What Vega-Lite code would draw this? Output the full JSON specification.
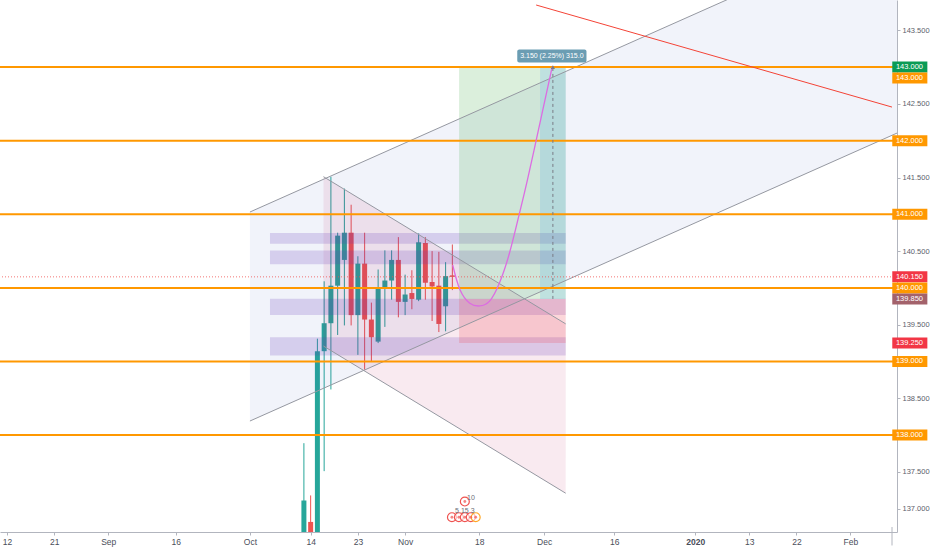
{
  "$schema": "https://vega.github.io/schema/vega-lite/v6.json",
  "width": 897,
  "height": 532,
  "autosize": {"type": "none"},
  "padding": {"left": 0, "top": 0, "right": 35, "bottom": 18},
  "background": "white",
  "config": {"view": {"stroke": null}, "font": "Liberation Sans, sans-serif"},
  "resolve": {"scale": {"color": "independent"}},
  "datasets": {
    "candles": [
      {"i": 8, "o": 133.0, "h": 137.89, "l": 132.8, "c": 137.11},
      {"i": 9, "o": 136.82, "h": 137.18, "l": 136.45, "c": 136.6},
      {"i": 10, "o": 136.6, "h": 139.31, "l": 136.4, "c": 139.14},
      {"i": 11, "o": 139.14, "h": 140.09, "l": 137.51, "c": 139.52},
      {"i": 12, "o": 139.52, "h": 141.51, "l": 138.62, "c": 140.03},
      {"i": 13, "o": 140.03, "h": 140.75, "l": 139.36, "c": 140.71},
      {"i": 14, "o": 140.38, "h": 141.35, "l": 139.49, "c": 140.75},
      {"i": 15, "o": 140.75, "h": 141.13, "l": 139.49, "c": 139.63},
      {"i": 16, "o": 139.63, "h": 140.43, "l": 139.09, "c": 140.33},
      {"i": 17, "o": 140.33, "h": 140.75, "l": 138.89, "c": 139.57},
      {"i": 18, "o": 139.57, "h": 139.8, "l": 139.0, "c": 139.33},
      {"i": 19, "o": 139.27, "h": 140.25, "l": 139.25, "c": 140.0},
      {"i": 20, "o": 139.99, "h": 140.51, "l": 139.47, "c": 140.1},
      {"i": 21, "o": 140.1, "h": 140.51, "l": 139.84, "c": 140.38},
      {"i": 22, "o": 140.38, "h": 140.69, "l": 139.6, "c": 139.81},
      {"i": 23, "o": 139.81, "h": 140.18, "l": 139.63, "c": 139.91},
      {"i": 24, "o": 139.93, "h": 140.24, "l": 139.71, "c": 139.85},
      {"i": 25, "o": 139.84, "h": 140.74, "l": 139.82, "c": 140.62},
      {"i": 26, "o": 140.61, "h": 140.69, "l": 139.84, "c": 140.07},
      {"i": 27, "o": 140.08, "h": 140.5, "l": 139.55, "c": 140.02},
      {"i": 28, "o": 140.03, "h": 140.49, "l": 139.4, "c": 139.51},
      {"i": 29, "o": 139.75, "h": 140.35, "l": 139.41, "c": 140.16},
      {"i": 30, "o": 140.17, "h": 140.59, "l": 139.97, "c": 140.15}
    ],
    "blueChannel": [
      {"i": 0, "up": 141.031, "lo": 138.191},
      {"i": 100, "up": 145.111, "lo": 142.271}
    ],
    "pinkChannel": [
      {"i": 10.9, "up": 141.511, "lo": 139.21},
      {"i": 46.8, "up": 139.511, "lo": 137.21}
    ],
    "zones": [
      {"top": 140.747, "bot": 140.6},
      {"top": 140.507, "bot": 140.32},
      {"top": 139.853, "bot": 139.63},
      {"top": 139.33, "bot": 139.08}
    ],
    "position": [
      {"top": 143.0, "bot": 139.85, "zone": "profit"},
      {"top": 139.85, "bot": 139.25, "zone": "stop"}
    ],
    "measure": [
      {"from": 139.85, "to": 143.0, "label": "3.150 (2.25%) 315.0", "mid": 143.15}
    ],
    "channelLines": [
      {"i": 0, "p": 141.031, "i2": 100, "p2": 145.111},
      {"i": 0, "p": 138.191, "i2": 100, "p2": 142.271},
      {"i": 10.9, "p": 141.511, "i2": 46.8, "p2": 139.511},
      {"i": 10.9, "p": 139.21, "i2": 46.8, "p2": 137.21}
    ],
    "trendLine": [
      {"i": 42.42, "p": 143.844, "i2": 95.16, "p2": 142.457}
    ],
    "levels": [{"p": 138.0}, {"p": 139.0}, {"p": 140.0}, {"p": 141.0}, {"p": 142.0}, {"p": 143.0}],
    "lastPrice": [{"p": 140.15}],
    "forecast": [
      {"i": 30.05, "p": 140.311},
      {"i": 31.12, "p": 139.977},
      {"i": 32.58, "p": 139.791},
      {"i": 34.05, "p": 139.755},
      {"i": 35.52, "p": 139.821},
      {"i": 36.98, "p": 140.067},
      {"i": 38.45, "p": 140.467},
      {"i": 39.91, "p": 141.0},
      {"i": 41.13, "p": 141.467},
      {"i": 42.36, "p": 141.977},
      {"i": 43.57, "p": 142.488},
      {"i": 44.79, "p": 143.0}
    ],
    "events": [
      {"i": 31.85, "p": 137.097, "src": "news"},
      {"i": 29.94, "p": 136.884, "src": "news"},
      {"i": 30.97, "p": 136.884, "src": "news"},
      {"i": 31.85, "p": 136.884, "src": "news"},
      {"i": 32.73, "p": 136.884, "src": "news"},
      {"i": 33.46, "p": 136.884, "src": "earn"}
    ],
    "eventText": [
      {"i": 32.75, "p": 137.15, "t": "10"},
      {"i": 31.85, "p": 136.965, "t": "5 15 3"}
    ],
    "rlabels": [
      {"p": 143.0, "kind": "target"},
      {"p": 142.0, "kind": "level"},
      {"p": 141.0, "kind": "level"},
      {"p": 140.15, "kind": "last"},
      {"p": 140.0, "kind": "level"},
      {"p": 139.85, "kind": "entry"},
      {"p": 139.25, "kind": "stop"},
      {"p": 139.0, "kind": "level"},
      {"p": 138.0, "kind": "level"}
    ],
    "shiftedLabel": [{"p": 143.0, "kind": "level"}]
  },
  "layer": [
    {
      "data": {"name": "candles"},
      "mark": {"type": "rule", "strokeWidth": 1, "clip": true},
      "encoding": {
        "x": {
          "field": "i", "type": "quantitative",
          "scale": {"domain": [-36.3, 95.16], "nice": false, "zero": false},
          "axis": {
            "orient": "bottom", "title": null, "grid": false,
            "values": [-36, -29, -21, -11, 0, 9, 16, 23, 34, 43.6, 54, 66, 74, 81, 89],
            "labelExpr": "['12','21','Sep','16','Oct','14','23','Nov','18','Dec','16','2020','13','22','Feb'][indexof([-36,-29,-21,-11,0,9,16,23,34,43.6,54,66,74,81,89], datum.value)]",
            "labelFontWeight": {"condition": {"test": "datum.value == 66", "value": "bold"}, "value": "normal"},
            "domainColor": "#b2b5be", "tickColor": "#b2b5be", "tickSize": 3,
            "labelFontSize": 8.5, "labelColor": "#4a4e59", "labelPadding": 2,
            "labelFlush": false, "labelOverlap": false
          }
        },
        "y": {
          "field": "l", "type": "quantitative",
          "scale": {"domain": [136.751, 143.844], "nice": false, "zero": false},
          "axis": {
            "orient": "right", "title": null, "grid": false,
            "values": [137, 137.5, 138.5, 139.5, 140.5, 141.5, 142.5, 143.5],
            "format": ".3f",
            "domainColor": "#b2b5be", "tickColor": "#b2b5be", "tickSize": 3,
            "labelFontSize": 7.5, "labelColor": "#5d606b", "labelPadding": 2
          }
        },
        "y2": {"field": "h"},
        "color": {"condition": {"test": "datum.c >= datum.o", "value": "#26a69a"}, "value": "#ef5350"}
      }
    },
    {
      "data": {"name": "candles"},
      "mark": {"type": "bar", "size": 5, "clip": true},
      "encoding": {
        "x": {"field": "i", "type": "quantitative"},
        "y": {"field": "o", "type": "quantitative"},
        "y2": {"field": "c"},
        "color": {"condition": {"test": "datum.c >= datum.o", "value": "#26a69a"}, "value": "#ef5350"}
      }
    },
    {
      "data": {"name": "blueChannel"},
      "mark": {"type": "area", "color": "#3f51b5", "opacity": 0.07, "clip": true},
      "encoding": {
        "x": {"field": "i", "type": "quantitative"},
        "y": {"field": "up", "type": "quantitative"},
        "y2": {"field": "lo"}
      }
    },
    {
      "data": {"name": "pinkChannel"},
      "mark": {"type": "area", "color": "#c2185b", "opacity": 0.09, "clip": true},
      "encoding": {
        "x": {"field": "i", "type": "quantitative"},
        "y": {"field": "up", "type": "quantitative"},
        "y2": {"field": "lo"}
      }
    },
    {
      "data": {"name": "zones"},
      "mark": {"type": "rect", "color": "#673ab7", "opacity": 0.2},
      "encoding": {
        "x": {"datum": 2.97, "type": "quantitative"},
        "x2": {"datum": 46.8},
        "y": {"field": "top", "type": "quantitative"},
        "y2": {"field": "bot"}
      }
    },
    {
      "data": {"name": "position"},
      "mark": {"type": "rect", "opacity": 0.2},
      "encoding": {
        "x": {"datum": 31, "type": "quantitative"},
        "x2": {"datum": 46.8},
        "y": {"field": "top", "type": "quantitative"},
        "y2": {"field": "bot"},
        "color": {"field": "zone", "type": "nominal", "scale": {"domain": ["profit", "stop"], "range": ["#4caf50", "#f23645"]}, "legend": null}
      }
    },
    {
      "data": {"name": "measure"},
      "mark": {"type": "rect", "color": "#2196f3", "opacity": 0.15},
      "encoding": {
        "x": {"datum": 43, "type": "quantitative"},
        "x2": {"datum": 46.8},
        "y": {"field": "from", "type": "quantitative"},
        "y2": {"field": "to"}
      }
    },
    {
      "data": {"name": "channelLines"},
      "mark": {"type": "rule", "color": "#9598a1", "strokeWidth": 1, "clip": true},
      "encoding": {
        "x": {"field": "i", "type": "quantitative"},
        "x2": {"field": "i2"},
        "y": {"field": "p", "type": "quantitative"},
        "y2": {"field": "p2"}
      }
    },
    {
      "data": {"name": "levels"},
      "mark": {"type": "rule", "color": "#ff9800", "strokeWidth": 2},
      "encoding": {
        "y": {"field": "p", "type": "quantitative"}
      }
    },
    {
      "data": {"name": "trendLine"},
      "mark": {"type": "rule", "color": "#f44336", "strokeWidth": 1, "clip": true},
      "encoding": {
        "x": {"field": "i", "type": "quantitative"},
        "x2": {"field": "i2"},
        "y": {"field": "p", "type": "quantitative"},
        "y2": {"field": "p2"}
      }
    },
    {
      "data": {"name": "lastPrice"},
      "mark": {"type": "rule", "color": "#ef5350", "strokeWidth": 1, "strokeDash": [1, 2], "opacity": 0.8},
      "encoding": {
        "y": {"field": "p", "type": "quantitative"}
      }
    },
    {
      "data": {"name": "forecast"},
      "mark": {"type": "line", "color": "#dc6ce2", "strokeWidth": 1.3, "interpolate": "natural", "clip": true},
      "encoding": {
        "x": {"field": "i", "type": "quantitative"},
        "y": {"field": "p", "type": "quantitative"}
      }
    },
    {
      "data": {"name": "measure"},
      "mark": {"type": "rule", "color": "#787b86", "strokeWidth": 1, "strokeDash": [3, 3]},
      "encoding": {
        "x": {"datum": 44.9, "type": "quantitative"},
        "y": {"field": "from", "type": "quantitative"},
        "y2": {"field": "to"}
      }
    },
    {
      "data": {"name": "measure"},
      "mark": {"type": "point", "shape": "triangle-up", "size": 18, "filled": true, "color": "#787b86", "opacity": 1},
      "encoding": {
        "x": {"datum": 44.9, "type": "quantitative"},
        "y": {"field": "to", "type": "quantitative"}
      }
    },
    {
      "data": {"name": "measure"},
      "mark": {"type": "bar", "size": 13, "color": "#6b9db3", "cornerRadius": 2},
      "encoding": {
        "x": {"datum": 39.62, "type": "quantitative"},
        "x2": {"datum": 49.88},
        "y": {"field": "mid", "type": "quantitative"}
      }
    },
    {
      "data": {"name": "measure"},
      "mark": {"type": "text", "color": "white", "fontSize": 7, "align": "center", "baseline": "middle"},
      "encoding": {
        "x": {"datum": 44.75, "type": "quantitative"},
        "y": {"field": "mid", "type": "quantitative"},
        "text": {"field": "label"}
      }
    },
    {
      "data": {"name": "events"},
      "mark": {"type": "point", "shape": "circle", "size": 80, "filled": false, "strokeWidth": 1.2, "fill": "white", "fillOpacity": 0.6},
      "encoding": {
        "x": {"field": "i", "type": "quantitative"},
        "y": {"field": "p", "type": "quantitative"},
        "color": {"field": "src", "type": "nominal", "scale": {"domain": ["news", "earn"], "range": ["#ef5350", "#ffa726"]}, "legend": null}
      }
    },
    {
      "data": {"name": "events"},
      "mark": {"type": "point", "shape": "circle", "size": 8, "filled": true, "color": "#ef5350"},
      "encoding": {
        "x": {"field": "i", "type": "quantitative"},
        "y": {"field": "p", "type": "quantitative"}
      }
    },
    {
      "data": {"name": "eventText"},
      "mark": {"type": "text", "fontSize": 7, "color": "#6a6d78", "align": "center", "baseline": "middle"},
      "encoding": {
        "x": {"field": "i", "type": "quantitative"},
        "y": {"field": "p", "type": "quantitative"},
        "text": {"field": "t"}
      }
    },
    {
      "data": {"name": "rlabels"},
      "mark": {"type": "bar", "size": 11},
      "encoding": {
        "x": {"datum": 95.2, "type": "quantitative"},
        "x2": {"datum": 100.4},
        "y": {"field": "p", "type": "quantitative"},
        "color": {"field": "kind", "type": "nominal", "scale": {"domain": ["target", "level", "last", "entry", "stop"], "range": ["#0a9b55", "#ff9800", "#f23645", "#a3626b", "#f23645"]}, "legend": null}
      }
    },
    {
      "data": {"name": "shiftedLabel"},
      "mark": {"type": "bar", "size": 11, "yOffset": 11, "color": "#ff9800"},
      "encoding": {
        "x": {"datum": 95.2, "type": "quantitative"},
        "x2": {"datum": 100.4},
        "y": {"field": "p", "type": "quantitative"}
      }
    },
    {
      "data": {"name": "rlabels"},
      "mark": {"type": "text", "color": "white", "fontSize": 7.5, "align": "center", "baseline": "middle"},
      "encoding": {
        "x": {"datum": 97.75, "type": "quantitative"},
        "y": {"field": "p", "type": "quantitative"},
        "text": {"field": "p", "format": ".3f"}
      }
    },
    {
      "data": {"name": "shiftedLabel"},
      "mark": {"type": "text", "color": "white", "fontSize": 7.5, "align": "center", "baseline": "middle", "yOffset": 11},
      "encoding": {
        "x": {"datum": 97.75, "type": "quantitative"},
        "y": {"field": "p", "type": "quantitative"},
        "text": {"field": "p", "format": ".3f"}
      }
    },
    {
      "data": {"name": "lastPrice"},
      "mark": {"type": "rule", "color": "#b2b5be", "strokeWidth": 1},
      "encoding": {
        "x": {"datum": 95.16, "type": "quantitative"},
        "y": {"datum": 136.751, "type": "quantitative"},
        "y2": {"datum": 136.5}
      }
    }
  ]
}
